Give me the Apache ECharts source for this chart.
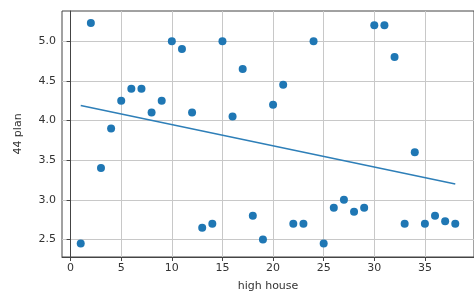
<!DOCTYPE html>
<html><head><meta charset="utf-8">
<script src="https://cdn.jsdelivr.net/npm/echarts@6/dist/echarts.min.js"></script>
<style>html,body{margin:0;padding:0;background:#fff}#c{width:474px;height:297px}</style>
</head><body><div id="c"></div>
<script>
const xValues = [1,2,3,4,5,6,7,8,9,10,11,12,13,14,15,16,17,18,19,20,21,22,23,24,25,26,27,28,29,30,31,32,33,34,35,36,37,38];
const yValues = [2.45,5.23,3.4,3.9,4.25,4.4,4.4,4.1,4.25,5.0,4.9,4.1,2.65,2.7,5.0,4.05,4.65,2.8,2.5,4.2,4.45,2.7,2.7,5.0,2.45,2.9,3.0,2.85,2.9,5.2,5.2,4.8,2.7,3.6,2.7,2.8,2.73,2.7];
const fitX = [1, 38];
const fitY = [4.19, 3.2];
const xTicks = [0,5,10,15,20,25,30,35];
const yTicks = [2.5,3.0,3.5,4.0,4.5,5.0];

const scatterData = xValues.map((x,i)=>[x,yValues[i]]);
const fitData = fitX.map((x,i)=>[x,fitY[i]]);
const chart = echarts.init(document.getElementById('c'), null, {renderer:'canvas'});
const txt = {color:'#333', fontSize:11, fontFamily:'DejaVu Sans'};
chart.setOption({
  animation:false,
  grid:{left:62, top:11, width:418, height:251, show:true, borderColor:'#444', borderWidth:1},
  xAxis:{type:'value', min:-0.85, max:39.85,
    name:'high house', nameLocation:'middle', nameGap:24, nameTextStyle:txt,
    axisLine:{show:true, lineStyle:{color:'#444'}},
    axisTick:{show:true, length:4, customValues:xTicks, lineStyle:{color:'#444'}},
    axisLabel:Object.assign({customValues:xTicks, margin:6, formatter:v=>String(v)}, txt),
    splitLine:{show:true, lineStyle:{color:'#c8c8c8', width:1}}
  },
  yAxis:{type:'value', min:2.28, max:5.38,
    name:'44 plan', nameLocation:'middle', nameGap:38, nameRotate:90, nameTextStyle:txt,
    axisLine:{show:true, lineStyle:{color:'#444'}},
    axisTick:{show:true, length:4, customValues:yTicks, lineStyle:{color:'#444'}},
    axisLabel:Object.assign({customValues:yTicks, margin:6, formatter:v=>v.toFixed(1)}, txt),
    splitLine:{show:true, lineStyle:{color:'#c8c8c8', width:1}}
  },
  series:[
    {type:'scatter', data:scatterData, symbolSize:8, itemStyle:{color:'#1f77b4', opacity:1}},
    {type:'line', data:fitData, showSymbol:false, symbol:'none', lineStyle:{color:'#2e7fb8', width:1.5}}
  ]
});
</script></body></html>
